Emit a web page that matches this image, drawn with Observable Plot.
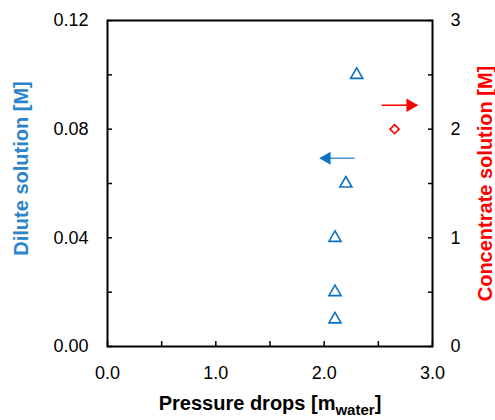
<!DOCTYPE html>
<html><head><meta charset="utf-8">
<script src="https://cdn.jsdelivr.net/npm/d3@7"></script>
<script src="https://cdn.jsdelivr.net/npm/@observablehq/plot@0.6"></script>
<style>
body{margin:0;background:#fff}
svg{font-family:"Liberation Sans",Arial,sans-serif}
</style>
</head><body><div id="chart"></div>
<script>
// Dilute-solution series (left axis, M)
const dilutePressure = [2.1, 2.1, 2.1, 2.2, 2.3];
const diluteConc = [0.01, 0.02, 0.04, 0.06, 0.10];
// Concentrate-solution series (right axis, M)
const concPressure = [2.65];
const concConc = [2.0];
// Axis ticks
const xTicks = [0, 1, 2, 3];
const xMinorTicks = [0, 0.5, 1, 1.5, 2, 2.5, 3];
const diluteTicks = [0, 0.04, 0.08, 0.12];
const diluteMinorTicks = [0, 0.02, 0.04, 0.06, 0.08, 0.10, 0.12];
const concTicks = [0, 1, 2, 3];
const concMinorTicks = [0, 0.5, 1, 1.5, 2, 2.5, 3];
// Arrows pointing to each series' axis
const arrowAxis = ["dilute", "concentrate"];
const arrowTailX = [2.28, 2.53];
const arrowTipX = [1.96, 2.86];
const arrowY = [0.0693, 2.22];
const arrowDir = [-1, 1];

const blue = "#0a72c4", blueTitle = "#2a86c9", red = "#ff0000";
const k = 0.12 / 3; // concentrate -> dilute scale factor
const toY = (axis, v) => axis === "concentrate" ? v * k : v;

const dilute = dilutePressure.map((x, i) => ({x, y: diluteConc[i]}));
const conc = concPressure.map((x, i) => ({x, y: concConc[i] * k}));
const arrows = arrowAxis.map((a, i) => ({
  x1: arrowTailX[i], x2: arrowTipX[i], y: toY(a, arrowY[i]), dir: arrowDir[i],
  color: a === "dilute" ? blue : red, line: a === "dilute" ? "#4a90d4" : red
}));

const fs = 18;
const plot = Plot.plot({
  width: 495, height: 420,
  marginLeft: 107, marginRight: 63, marginTop: 20, marginBottom: 74,
  x: {domain: [0, 3]},
  y: {domain: [0, 0.12]},
  style: {fontFamily: "'Liberation Sans', Arial, sans-serif", fontSize: fs + "px", color: "#000"},
  marks: [
    Plot.axisX(xMinorTicks, {tickSize: -5, text: null, strokeWidth: 1.5, label: null}),
    Plot.axisX(xTicks, {tickSize: 0, tickPadding: 20, tickFormat: d3.format(".1f"), fontSize: fs, label: null}),
    Plot.axisY(diluteMinorTicks, {anchor: "left", tickSize: -5, text: null, strokeWidth: 1.5, label: null}),
    Plot.axisY(diluteTicks, {anchor: "left", tickSize: 0, tickPadding: 19, tickFormat: d3.format(".2f"), fontSize: fs, label: null}),
    Plot.axisY(concMinorTicks.map(v => v * k), {anchor: "right", tickSize: -5, text: null, strokeWidth: 1.5, label: null}),
    Plot.axisY(concTicks.map(v => v * k), {anchor: "right", tickSize: 0, tickPadding: 18, tickFormat: d => String(Math.round(d / k)), fontSize: fs, label: null}),
    Plot.frame({stroke: "#000", strokeWidth: 2}),
    Plot.dot(dilute, {x: "x", y: "y", symbol: "triangle", r: 4.5, stroke: blue, strokeWidth: 1.6, fill: "none"}),
    Plot.dot(conc, {x: "x", y: "y", symbol: "diamond2", r: 4.1, stroke: red, strokeWidth: 1.6, fill: "none"}),
    Plot.link(arrows, {x1: "x1", x2: "x2", y1: "y", y2: "y", stroke: "line", strokeWidth: 1.5}),
    Plot.dot(arrows.filter(a => a.dir > 0), {x: "x2", y: "y", symbol: "triangle", r: 5, fill: "color", stroke: "none", rotate: 90, dx: -7}),
    Plot.dot(arrows.filter(a => a.dir < 0), {x: "x2", y: "y", symbol: "triangle", r: 4.8, fill: "color", stroke: "none", rotate: -90, dx: 7}),
    Plot.text(["Dilute solution [M]"], {frameAnchor: "left", textAnchor: "middle", rotate: -90, dx: -86, dy: -15, fill: blueTitle, fontWeight: "bold", fontSize: 20}),
    Plot.text(["Concentrate solution [M]"], {frameAnchor: "right", textAnchor: "middle", rotate: -90, dx: 53, fill: red, fontWeight: "bold", fontSize: 20}),
    Plot.text(["XTITLE"], {frameAnchor: "bottom", dy: 63, fill: "#000", fontWeight: "bold", fontSize: 20})
  ]
});
document.getElementById("chart").append(plot);

// x-axis title with subscript
d3.select(plot).selectAll("text").filter(function(){ return this.textContent === "XTITLE"; })
  .each(function(){
    const t = d3.select(this);
    t.text(null);
    t.append("tspan").text("Pressure drops [m");
    t.append("tspan").attr("font-size", 15).attr("dy", 5).text("water");
    t.append("tspan").attr("dy", -5).text("]");
  });
</script>
</body></html>
